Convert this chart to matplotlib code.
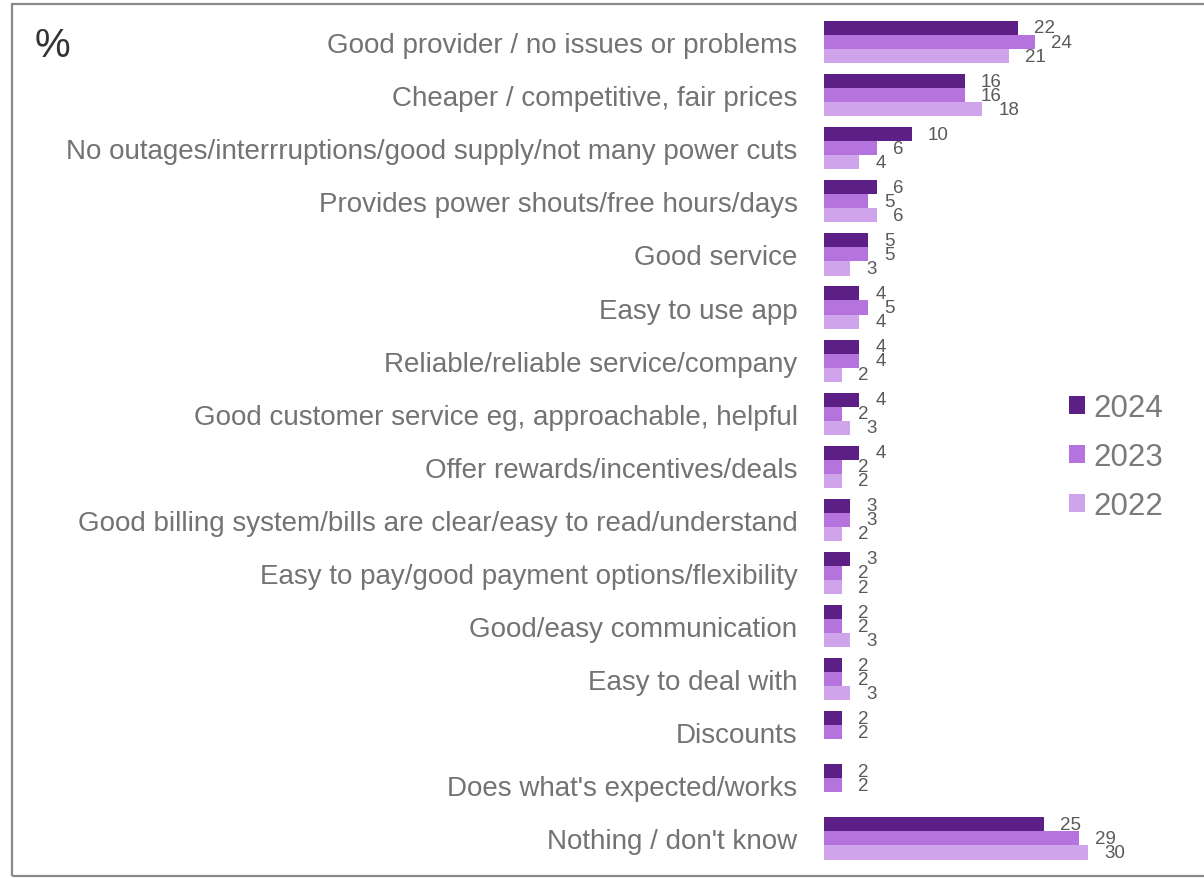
import numpy as np
import matplotlib
matplotlib.use("Agg")
import matplotlib.pyplot as plt
from matplotlib.patches import Rectangle, Patch

plt.rcParams['font.family'] = ['Liberation Sans', 'DejaVu Sans']

categories = [
    "Good provider / no issues or problems",
    "Cheaper / competitive, fair prices",
    "No outages/interrruptions/good supply/not many power cuts",
    "Provides power shouts/free hours/days",
    "Good service",
    "Easy to use app",
    "Reliable/reliable service/company",
    "Good customer service eg, approachable, helpful",
    "Offer rewards/incentives/deals",
    "Good billing system/bills are clear/easy to read/understand",
    "Easy to pay/good payment options/flexibility",
    "Good/easy communication",
    "Easy to deal with",
    "Discounts",
    "Does what's expected/works",
    "Nothing / don't know",
]
years = ["2024", "2023", "2022"]
v2024 = [22, 16, 10, 6, 5, 4, 4, 4, 4, 3, 3, 2, 2, 2, 2, 25]
v2023 = [24, 16, 6, 5, 5, 5, 4, 2, 2, 3, 2, 2, 2, 2, 2, 29]
v2022 = [21, 18, 4, 6, 3, 4, 2, 3, 2, 2, 2, 3, 3, None, None, 30]
colors = ["#5C1F86", "#B473DD", "#D0A4EA"]

W, H = 1204, 879
fig = plt.figure(figsize=(W / 100, H / 100), dpi=100)
ax_left, ax_right = 824, 1190
ax_top, ax_bot = 16.5, 866
ax = fig.add_axes([ax_left / W, 1 - ax_bot / H, (ax_right - ax_left) / W, (ax_bot - ax_top) / H])

n = len(categories)
y = np.arange(n)
bh = 0.265
series = [v2024, v2023, v2022]
offsets = [-bh, 0, bh]
for vals, off, col in zip(series, offsets, colors):
    for i, v in enumerate(vals):
        if v is None:
            continue
        ax.barh(y[i] + off, v, height=bh, color=col, edgecolor='none')
        ax.annotate(str(v), (v, y[i] + off), xytext=(11.5, 0), textcoords='offset points',
                    ha='left', va='center', fontsize=13.5, color='#595959')

ax.set_xlim(0, (ax_right - ax_left) / 8.8)
ax.set_ylim(n - 0.5, -0.5)
ax.set_yticks(y)
ax.set_yticklabels(categories, fontsize=20, color='#737373')
ax.tick_params(axis='y', length=0, pad=19)
ax.set_xticks([])
for s in ax.spines.values():
    s.set_visible(False)

handles = [Patch(facecolor=c, edgecolor='none') for c in colors]
fig.legend(handles, years, loc='center left',
           bbox_to_anchor=(1069 / W, 1 - 458 / H), frameon=False,
           fontsize=22.5, labelcolor='#7a7a7a', handlelength=0.52, handleheight=0.52,
           handletextpad=0.26, labelspacing=0.6, borderpad=0, borderaxespad=0)

fig.text(35 / W, 1 - 46 / H, "%", fontsize=29, color='#333333', ha='left', va='center')

fig.patches.append(Rectangle((12 / W, 1 - 877 / H), (W + 20) / W, (877 - 5) / H,
                             transform=fig.transFigure, fill=False,
                             edgecolor='#8a8a8a', linewidth=1.6))

fig.savefig("out.png", dpi=100)
